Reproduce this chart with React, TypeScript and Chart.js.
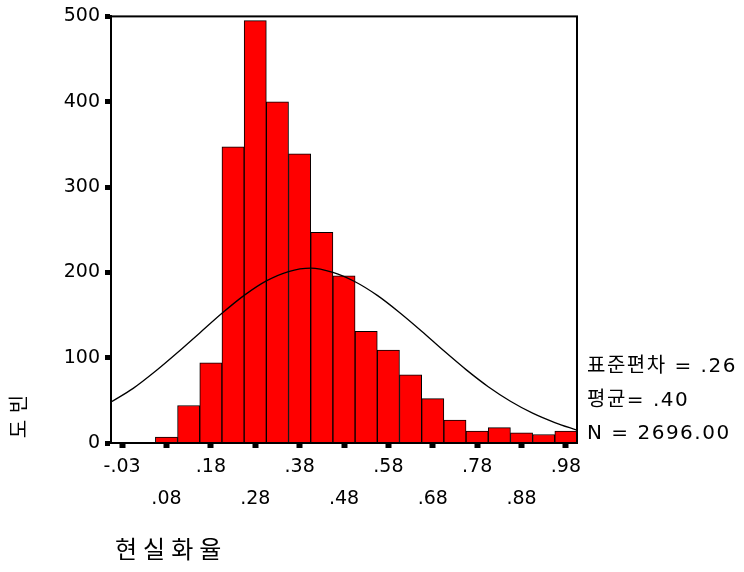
import React, { useEffect, useRef } from "react";
import { Chart, registerables } from "chart.js";

Chart.register(...registerables);

// ---- data ----
const BIN_CENTERS = [
  -0.025, 0.025, 0.075, 0.125, 0.175, 0.225, 0.275, 0.325, 0.375, 0.425, 0.475,
  0.525, 0.575, 0.625, 0.675, 0.725, 0.775, 0.825, 0.875, 0.925, 0.975,
];
const BIN_COUNTS = [
  0, 0, 7, 44, 94, 347, 495, 400, 339, 247, 196, 131, 109, 80, 52, 27, 14, 18, 12, 10, 14,
];
const CURVE_X = [
  -0.05, 0.0, 0.05, 0.1, 0.15, 0.2, 0.25, 0.3, 0.35, 0.4, 0.45, 0.5, 0.55, 0.6, 0.65,
  0.7, 0.75, 0.8, 0.85, 0.9, 0.95, 1.0,
];
const CURVE_Y = [
  48, 64, 84, 106, 129, 152, 173, 190, 201, 205, 200, 189, 173, 153, 131, 108, 86, 66, 49,
  35, 24, 15,
];
const X_TICK_VALUES = [-0.025, 0.075, 0.175, 0.275, 0.375, 0.475, 0.575, 0.675, 0.775, 0.875, 0.975];
const X_TICK_LABELS = ["-.03", ".08", ".18", ".28", ".38", ".48", ".58", ".68", ".78", ".88", ".98"];
const Y_TICK_VALUES = [0, 100, 200, 300, 400, 500];
const X_MIN = -0.05;
const X_MAX = 1.0;
const Y_MAX = 500;
const X_TITLE = "현실화율";
const Y_TITLE = "빈도";
const STATS = ["표준편차 = .26", "평균= .40", "N = 2696.00"];

const TICK_FONT = { family: '"DejaVu Sans", "Noto Sans CJK KR", sans-serif', size: 19 };

const decorPlugin = {
  id: "decor",
  afterDatasetsDraw(chart: any) {
    const ctx = chart.ctx as CanvasRenderingContext2D;
    const { left, top, right, bottom } = chart.chartArea;
    ctx.save();
    ctx.strokeStyle = "#000";
    ctx.lineWidth = 2;
    ctx.strokeRect(left, top, right - left, bottom - top);
    ctx.restore();
  },
  afterDraw(chart: any) {
    const ctx = chart.ctx as CanvasRenderingContext2D;
    const { left, right, bottom } = chart.chartArea;
    ctx.save();
    ctx.fillStyle = "#000";
    // statistics text to the right of the plot
    ctx.font = '20px "DejaVu Sans", "Noto Sans CJK KR", sans-serif';
    (ctx as any).letterSpacing = "1.5px";
    ctx.textAlign = "left";
    ctx.textBaseline = "middle";
    STATS.forEach((s, i) => {
      ctx.fillText(s, right + 10, bottom - 76 + i * 33.5);
    });
    // x title
    ctx.font = '24px "Noto Sans CJK KR", sans-serif';
    (ctx as any).letterSpacing = "6px";
    ctx.fillText(X_TITLE, left + 4, bottom + 106);
    // y title: glyphs rotated counter-clockwise, stacked top to bottom
    ctx.font = '20px "Noto Sans CJK KR", sans-serif';
    (ctx as any).letterSpacing = "0px";
    ctx.textAlign = "center";
    Array.from(Y_TITLE).forEach((ch, i) => {
      ctx.save();
      ctx.translate(18, bottom - 39 + i * 25);
      ctx.rotate(-Math.PI / 2);
      ctx.fillText(ch, 0, 0);
      ctx.restore();
    });
    ctx.restore();
  },
};

export default function App() {
  const canvasRef = useRef<HTMLCanvasElement | null>(null);

  useEffect(() => {
    document.body.style.margin = "0";
    const canvas = canvasRef.current;
    if (!canvas) return;

    const chart = new Chart(canvas, {
      type: "bar",
      data: {
        datasets: [
          {
            type: "line",
            data: CURVE_X.map((x, i) => ({ x, y: CURVE_Y[i] })),
            borderColor: "#000",
            borderWidth: 1.3,
            pointRadius: 0,
            cubicInterpolationMode: "monotone",
            fill: false,
            order: 0,
          } as any,
          {
            type: "bar",
            data: BIN_CENTERS.map((x, i) => ({ x, y: BIN_COUNTS[i] })),
            backgroundColor: "#ff0000",
            borderColor: "#000",
            borderWidth: 1,
            barPercentage: 1,
            categoryPercentage: 1,
            order: 1,
          } as any,
        ],
      },
      options: {
        animation: false,
        responsive: false,
        maintainAspectRatio: false,
        layout: { padding: { top: 14, right: 167, left: 0, bottom: 0 } },
        plugins: {
          legend: { display: false },
          tooltip: { enabled: false },
          title: { display: false },
        },
        scales: {
          x: {
            type: "linear",
            min: X_MIN,
            max: X_MAX,
            offset: false,
            afterBuildTicks: (scale: any) => {
              scale.ticks = X_TICK_VALUES.map((v) => ({ value: v }));
            },
            afterFit: (scale: any) => {
              scale.height = 129;
            },
            ticks: {
              autoSkip: false,
              maxRotation: 0,
              minRotation: 0,
              padding: 3,
              color: "#000",
              font: { ...TICK_FONT, lineHeight: "32px" } as any,
              callback: (_v: any, i: number) =>
                i % 2 === 0 ? X_TICK_LABELS[i] : ["", X_TICK_LABELS[i]],
            },
            grid: {
              offset: false,
              drawOnChartArea: false,
              drawTicks: true,
              tickLength: 5,
              tickWidth: 6,
              tickColor: "#000",
            },
            border: { display: true, color: "#000", width: 2 },
          } as any,
          y: {
            type: "linear",
            min: 0,
            max: Y_MAX,
            afterBuildTicks: (scale: any) => {
              scale.ticks = Y_TICK_VALUES.map((v) => ({ value: v }));
            },
            afterFit: (scale: any) => {
              scale.width = 111;
            },
            ticks: {
              padding: 5,
              color: "#000",
              font: TICK_FONT,
              callback: (v: any) => String(v),
            },
            grid: {
              drawOnChartArea: false,
              drawTicks: true,
              tickLength: 6,
              tickWidth: 5,
              tickColor: "#000",
            },
            border: { display: true, color: "#000", width: 2 },
          } as any,
        },
      },
      plugins: [decorPlugin],
    });

    return () => {
      chart.destroy();
    };
  }, []);

  return (
    <div style={{ width: 744, height: 572 }}>
      <canvas ref={canvasRef} width={744} height={572} style={{ display: "block" }} />
    </div>
  );
}
